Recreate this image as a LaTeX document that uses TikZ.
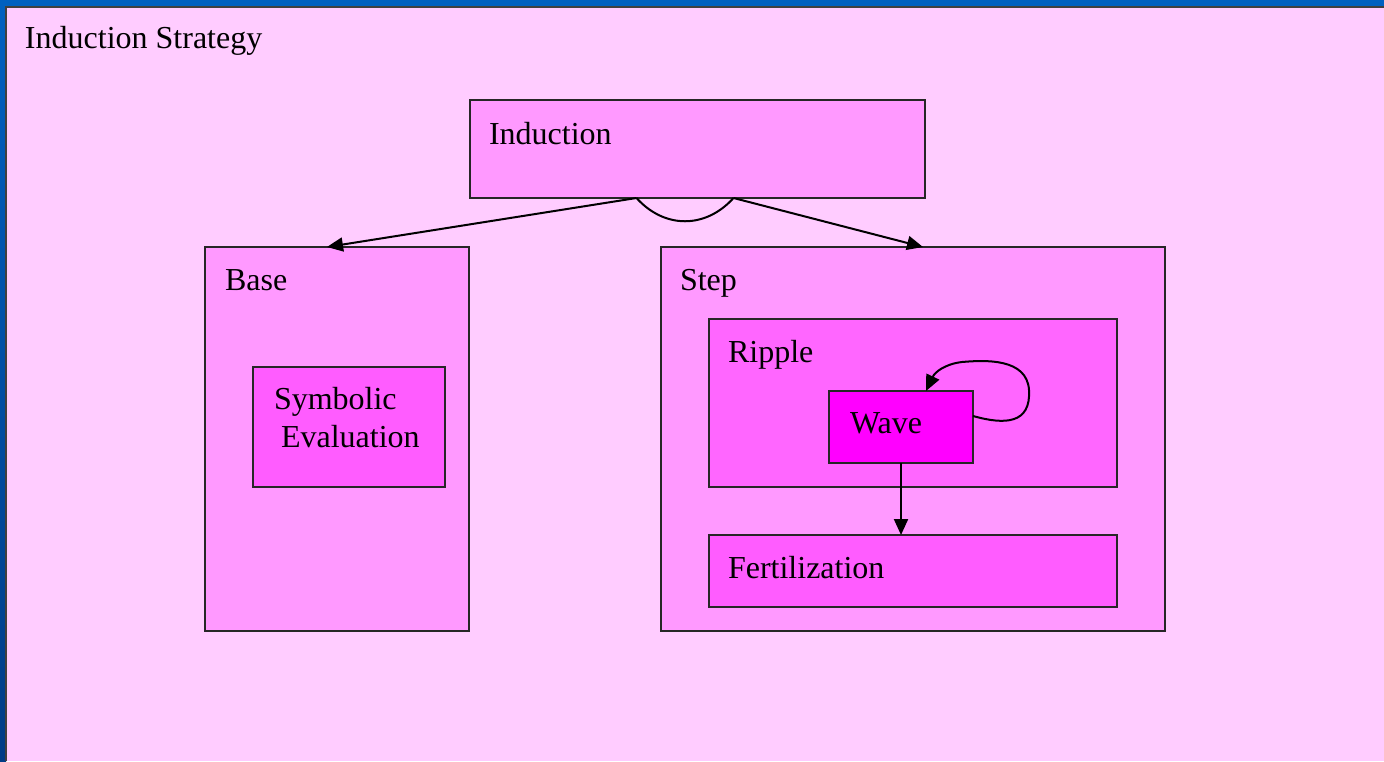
\documentclass[tikz,border=0pt]{standalone}
\usepackage{fontspec}
\setmainfont{Liberation Serif}
\usetikzlibrary{arrows.meta,calc}
\definecolor{bgpink}{HTML}{FFCCFF}
\definecolor{boxpink}{HTML}{FF99FF}
\definecolor{midpink}{HTML}{FF66FF}
\definecolor{innpink}{HTML}{FF5CFF}
\definecolor{wavepink}{HTML}{FF00FF}
\definecolor{frameblue}{HTML}{0060C0}
\definecolor{framedark}{HTML}{003C86}
\tikzset{
  boxframe/.style={draw=black!85, line width=1pt, inner sep=0pt, outer sep=0pt, anchor=north west},
  lbl/.style={anchor=base west, inner sep=0pt, outer sep=0pt, font=\fontsize{16}{19}\selectfont},
  conn/.style={draw=black, line width=1pt, -{Triangle[length=8pt,width=7pt]}},
  plain/.style={draw=black, line width=1pt}
}
\begin{document}
\begin{tikzpicture}[x=0.5pt,y=-0.5pt]
\useasboundingbox (0,0) rectangle (1384,761);
% frame
\fill[frameblue] (0,0) rectangle (1384,761);
\shade[top color=frameblue, bottom color=framedark] (0,7) rectangle (6,761);
\fill[bgpink] (7,8) rectangle (1384,761);
\draw[black!75, line width=1pt] (6,761) -- (6,7) -- (1384,7);
\node[lbl] (title) at (25,48) {Induction Strategy};
% boxes
\node[boxframe, fill=boxpink, minimum width=227.5pt, minimum height=49pt] (ind) at (470,100) {};
\node[boxframe, fill=boxpink, minimum width=132pt, minimum height=192pt] (base) at (205,247) {};
\node[boxframe, fill=innpink, minimum width=96pt, minimum height=60pt] (sym) at (253,367) {};
\node[boxframe, fill=boxpink, minimum width=252pt, minimum height=192pt] (step) at (661,247) {};
\node[boxframe, fill=midpink, minimum width=204pt, minimum height=84pt] (ripple) at (709,319) {};
\node[boxframe, fill=wavepink, minimum width=72pt, minimum height=36pt] (wave) at (829,391) {};
\node[boxframe, fill=innpink, minimum width=204pt, minimum height=36pt] (fert) at (709,535) {};
% labels
\node[lbl] (indl) at (489,144) {Induction};
\node[lbl] (basel) at (225,290) {Base};
\node[lbl] (symla) at (274,409) {Symbolic};
\node[lbl] (symlb) at (281,447) {Evaluation};
\node[lbl] (stepl) at (680,290) {Step};
\node[lbl] (ripl) at (728,362) {Ripple};
\node[lbl] (wavel) at (850,433) {Wave};
\node[lbl] (fertl) at (728,578) {Fertilization};
% connectors
\coordinate (s1) at ($(ind.south)+(-61,0)$);
\coordinate (s2) at ($(ind.south)+(36,0)$);
\draw[conn] (s1) -- ($(base.north)+(-10,0)$);
\draw[conn] (s2) -- ($(step.north)+(10,0)$);
\draw[plain] (s1) .. controls ($(s1)+(28,31)$) and ($(s2)+(-28,31)$) .. (s2);
\draw[conn] ($(wave.east)+(0,-11)$) .. controls (1005,425) and (1031,424) .. (1029,390)
   .. controls (1027,358) and (985,360) .. (962,362)
   .. controls (945,364) and (935,372) .. ($(wave.north)+(25,0)$);
\draw[conn] (wave.south) -- (wave.south |- fert.north);
\end{tikzpicture}
\end{document}
